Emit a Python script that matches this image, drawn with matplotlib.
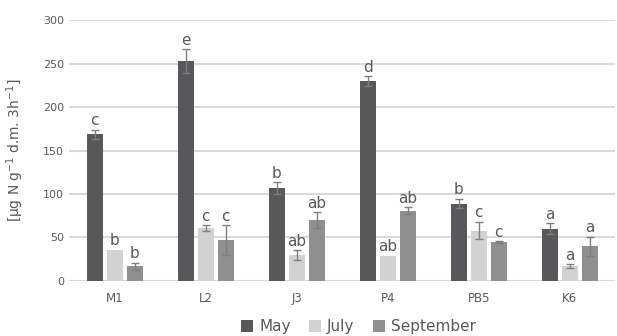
import numpy as np
import matplotlib.pyplot as plt

sites = ["M1", "L2", "J3", "P4", "PB5", "K6"]
series = ["May", "July", "September"]

may = [169, 253, 107, 230, 89, 60]
may_err = [5, 14, 7, 6, 5.5, 6.5]
july = [36, 61, 30, 29, 58, 17]
july_err = [0, 3, 5.5, 0, 10, 2]
sept = [17, 47, 70, 81, 45, 40]
sept_err = [4, 17, 9.5, 4, 1, 11]

may_lbl = ["c", "e", "b", "d", "b", "a"]
july_lbl = ["b", "c", "ab", "ab", "c", "a"]
sept_lbl = ["b", "c", "ab", "ab", "c", "a"]

colors = ["#58585a", "#d2d2d2", "#8f8f8f"]

fig = plt.figure(figsize=(6.17, 3.36), dpi=100)
ax = fig.add_axes([0.112, 0.164, 0.885, 0.775])

x = np.arange(len(sites))
w = 0.176
step = 0.22

data = [(may, may_err, may_lbl), (july, july_err, july_lbl), (sept, sept_err, sept_lbl)]
for i, (vals, errs, lbls) in enumerate(data):
    xs = x + (i - 1) * step
    ax.bar(xs, vals, width=w, color=colors[i], label=series[i], zorder=3)
    e = np.array(errs, dtype=float)
    m = e > 0  # no bar drawn where there is no error
    ax.errorbar(xs[m], np.array(vals)[m], yerr=e[m], fmt="none", ecolor="#7f7f7f",
                elinewidth=1, capsize=3, capthick=1, zorder=4)
    for xi, v, er, l in zip(xs, vals, errs, lbls):
        ax.annotate(l, (xi, v + er), xytext=(0, 1), textcoords="offset points",
                    ha="center", va="bottom", fontsize=11, color="#595959")

ax.set_ylim(0, 300)
ax.set_xlim(-0.5, len(sites) - 0.5)
ax.set_yticks(range(0, 301, 50))
ax.set_xticks(x)
ax.set_xticklabels(sites)
ax.yaxis.grid(True, color="#d9d9d9", linewidth=1.5, zorder=0)
ax.set_axisbelow(True)
for s in ax.spines.values():
    s.set_visible(False)
ax.tick_params(axis="both", length=0, labelsize=8, labelcolor="#595959")
ax.tick_params(axis="x", pad=8, labelsize=8.5)
ax.set_ylabel("[µg N g$^{\\mathregular{-1}}$ d.m. 3h$^{\\mathregular{-1}}$]",
              fontsize=10, color="#595959", labelpad=12)

fig.legend(loc="center", bbox_to_anchor=(0.581, 0.027), ncol=3, frameon=False,
           fontsize=11, labelcolor="#595959", handlelength=0.8, handleheight=0.8,
           handletextpad=0.4, columnspacing=1.2)

fig.savefig("out.png", dpi=100)
